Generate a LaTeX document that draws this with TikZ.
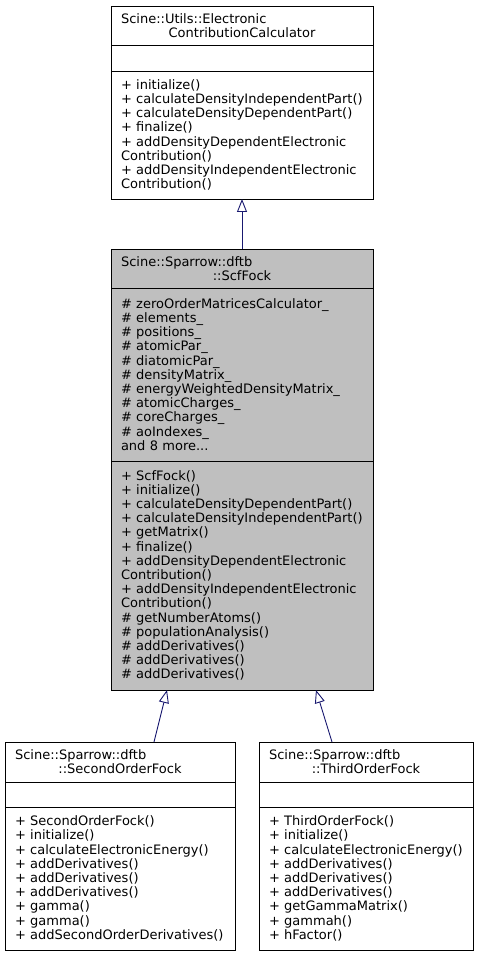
\documentclass[tikz,border=0pt]{standalone}
\usepackage{fontspec}
\setmainfont{DejaVu Sans}
\usetikzlibrary{arrows.meta, positioning}
\definecolor{linkblue}{HTML}{191970}
\definecolor{fockgrey}{HTML}{BFBFBF}
\newcommand\lefthead[1]{\hbox to \hsize{#1\hfil}}

\begin{document}
\begin{tikzpicture}[x=1pt, y=-1pt,
    node distance=50pt,
    part/.style={draw=black, line width=0.9pt, outer sep=0pt, inner xsep=10pt,
                 inner ysep=0pt, align=left, anchor=north west,
                 font=\fontsize{13}{14.2}\selectfont},
    title/.style={part, align=center, minimum height=39pt},
    wide/.style={text width=242pt},
    narrow/.style={text width=#1},
    inherit/.style={draw=linkblue, line width=0.9pt,
                    {Triangle[open, length=13pt, width=10pt]}-}]
  \useasboundingbox (0,0) rectangle (479,957);

  % base class
  \node[title, wide] (calcTitle) at (111,6)
    {\lefthead{Scine::Utils::Electronic}\\ContributionCalculator};
  \node[part, wide, minimum height=26pt, below=0pt of calcTitle] (calcAttr) {};
  \node[part, wide, minimum height=128pt, below=0pt of calcAttr] (calcMethods)
    {+ initialize()\\+ calculateDensityIndependentPart()\\
     + calculateDensityDependentPart()\\+ finalize()\\
     + addDensityDependentElectronic\\Contribution()\\
     + addDensityIndependentElectronic\\Contribution()};

  % ScfFock
  \node[title, wide, fill=fockgrey, below=of calcMethods] (scfTitle)
    {\lefthead{Scine::Sparrow::dftb}\\::ScfFock};
  \node[part, wide, fill=fockgrey, minimum height=173pt, below=0pt of scfTitle] (scfAttr)
    {\# zeroOrderMatricesCalculator\_\\\# elements\_\\\# positions\_\\
     \# atomicPar\_\\\# diatomicPar\_\\\# densityMatrix\_\\
     \# energyWeightedDensityMatrix\_\\\# atomicCharges\_\\
     \# coreCharges\_\\\# aoIndexes\_\\and 8 more...};
  \node[part, wide, fill=fockgrey, minimum height=229pt, below=0pt of scfAttr] (scfMethods)
    {+ ScfFock()\\+ initialize()\\+ calculateDensityDependentPart()\\
     + calculateDensityIndependentPart()\\+ getMatrix()\\+ finalize()\\
     + addDensityDependentElectronic\\Contribution()\\
     + addDensityIndependentElectronic\\Contribution()\\
     \# getNumberAtoms()\\\# populationAnalysis()\\\# addDerivatives()\\
     \# addDerivatives()\\\# addDerivatives()};

  % SecondOrderFock
  \node[title, narrow=210pt, minimum height=40pt] (secondTitle) at (5,742)
    {\lefthead{Scine::Sparrow::dftb}\\::SecondOrderFock};
  \node[part, narrow=210pt, minimum height=25pt, below=0pt of secondTitle] (secondAttr) {};
  \node[part, narrow=210pt, minimum height=143pt, below=0pt of secondAttr] (secondMethods)
    {+ SecondOrderFock()\\+ initialize()\\+ calculateElectronicEnergy()\\
     + addDerivatives()\\+ addDerivatives()\\+ addDerivatives()\\
     + gamma()\\+ gamma()\\+ addSecondOrderDerivatives()};

  % ThirdOrderFock
  \node[title, narrow=194pt, minimum height=40pt] (thirdTitle) at (259,742)
    {\lefthead{Scine::Sparrow::dftb}\\::ThirdOrderFock};
  \node[part, narrow=194pt, minimum height=25pt, below=0pt of thirdTitle] (thirdAttr) {};
  \node[part, narrow=194pt, minimum height=143pt, below=0pt of thirdAttr] (thirdMethods)
    {+ ThirdOrderFock()\\+ initialize()\\+ calculateElectronicEnergy()\\
     + addDerivatives()\\+ addDerivatives()\\+ addDerivatives()\\
     + getGammaMatrix()\\+ gammah()\\+ hFactor()};

  \draw[inherit] (calcMethods.south) -- (scfTitle.north);
  \draw[inherit] ([xshift=-75pt]scfMethods.south) -- ([xshift=34pt]secondTitle.north);
  \draw[inherit] ([xshift=74pt]scfMethods.south) -- ([xshift=-34pt]thirdTitle.north);
\end{tikzpicture}
\end{document}
